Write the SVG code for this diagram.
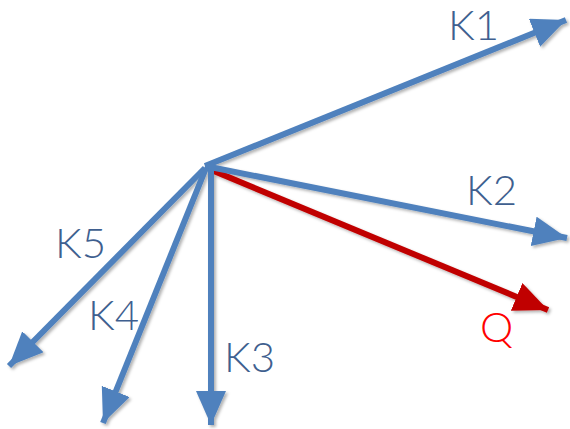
<svg xmlns="http://www.w3.org/2000/svg" width="570" height="429" viewBox="0 0 570 429">
<style>
.b{stroke:#4F81BD;stroke-width:6;fill:none}
.r{stroke:#C00000;stroke-width:6;fill:none}
.t{font-family:Lato,"Open Sans","Liberation Sans",sans-serif;font-weight:300;font-size:42px;fill:#3F5F8F}
.q{font-family:Lato,"Open Sans","Liberation Sans",sans-serif;font-weight:300;font-size:42px;fill:#FF0000}
</style>
<defs>
<filter id="sh" x="-20%" y="-20%" width="140%" height="140%"><feDropShadow dx="2" dy="2" stdDeviation="1.5" flood-opacity="0.3"/></filter>
<marker id="ab" markerUnits="userSpaceOnUse" markerWidth="40" markerHeight="40" refX="34" refY="15" orient="auto"><path d="M0,0 L34,15 L0,30 Z" fill="#4F81BD"/></marker>
<marker id="ar" markerUnits="userSpaceOnUse" markerWidth="40" markerHeight="40" refX="34" refY="15" orient="auto"><path d="M0,0 L34,15 L0,30 Z" fill="#C00000"/></marker>
</defs>
<g id="connectors" filter="url(#sh)">
<line class="r" x1="209" y1="169" x2="548" y2="310" marker-end="url(#ar)"/>
<line class="b" x1="205" y1="166" x2="566" y2="20" marker-end="url(#ab)"/>
<line class="b" x1="205" y1="166" x2="567" y2="238" marker-end="url(#ab)"/>
<line class="b" x1="211" y1="166" x2="211" y2="425" marker-end="url(#ab)"/>
<line class="b" x1="206" y1="168" x2="103" y2="423" marker-end="url(#ab)"/>
<line class="b" x1="205" y1="168" x2="9" y2="366" marker-end="url(#ab)"/>
</g>
<g id="K1"><text class="t" x="448" y="40">K1</text></g>
<g id="K2"><text class="t" x="466" y="205">K2</text></g>
<g id="Q"><text class="q" x="480" y="342">Q</text></g>
<g id="K3"><text class="t" x="224" y="372">K3</text></g>
<g id="K4"><text class="t" x="88" y="330">K4</text></g>
<g id="K5"><text class="t" x="55" y="258">K5</text></g>
</svg>
